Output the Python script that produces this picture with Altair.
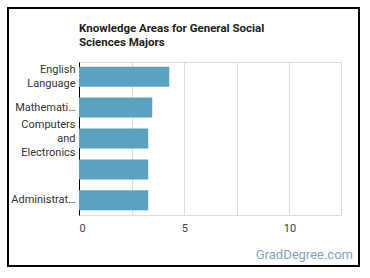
import altair as alt
import pandas as pd

categories = ["English Language", "Mathematics", "Computers and Electronics",
              "Customer and Personal Service", "Administration and Management"]
values = [4.29, 3.48, 3.29, 3.29, 3.29]
label_lines = [["English", "Language"], ["Mathemati…"], ["Computers", "and", "Electronics"],
               [""], ["Administrat…"]]
title_lines = ["Knowledge Areas for General Social", "Sciences Majors"]

df = pd.DataFrame({"area": categories, "value": values})

label_map = "{" + ",".join(
    '"%s": [%s]' % (c, ",".join('"%s"' % s for s in l)) for c, l in zip(categories, label_lines)
) + "}"
n_map = "{" + ",".join('"%s": %d' % (c, len(l)) for c, l in zip(categories, label_lines)) + "}"

FONT = "Roboto"
LH = 14

bars = alt.Chart(df).mark_bar(color="#5ba2c0", size=20).encode(
    x=alt.X("value:Q", scale=alt.Scale(domain=[0, 12.45], nice=False),
            axis=alt.Axis(values=[0, 2.5, 5, 7.5, 10], title=None, grid=True,
                          gridColor="#dddddd", domain=False, ticks=False,
                          labelExpr="datum.value % 5 == 0 ? datum.label : ''",
                          labelColor="#444444", labelFontSize=11, labelFont=FONT,
                          labelPadding=7)),
    y=alt.Y("area:N", sort=categories,
            scale=alt.Scale(paddingInner=0.35, paddingOuter=0.15),
            axis=alt.Axis(title=None, ticks=False, domain=True, domainColor="#000000",
                          labelExpr=label_map + "[datum.value]",
                          labelColor="#333333", labelFontSize=11, labelFont=FONT,
                          labelLineHeight=LH, labelPadding=4,
                          labelOffset={"expr": "-(" + n_map + "[datum.value] - 1) * %d / 2" % LH})),
)

title_df = pd.DataFrame({"t": ["\n".join(title_lines)]})
title = alt.Chart(title_df).mark_text(
    align="left", baseline="alphabetic", fontSize=11.5, font=FONT, fontWeight="bold",
    color="#222222", lineBreak="\n", lineHeight=14
).encode(text="t:N", x=alt.value(0), y=alt.value(-30))

wm = alt.Chart(pd.DataFrame({"t": ["GradDegree.com"]})).mark_text(
    align="right", baseline="alphabetic", fontSize=13, font=FONT, color="#7fa8c2"
).encode(text="t:N", x=alt.value(274), y=alt.value(197))

border = alt.Chart(pd.DataFrame({"t": [1]})).mark_rect(
    fill=None, stroke="#000000", strokeWidth=2
).encode(x=alt.value(-71), x2=alt.value(280), y=alt.value(-54), y2=alt.value(204))

chart = alt.layer(bars, title, wm, border).properties(
    width=262, height=153,
    autosize=alt.AutoSizeParams(type="none"),
    padding={"left": 79, "top": 62, "right": 29, "bottom": 63},
).configure_view(stroke=None).configure(background="white")

chart.save("out.html", embed_options={"renderer": "svg", "actions": False})
